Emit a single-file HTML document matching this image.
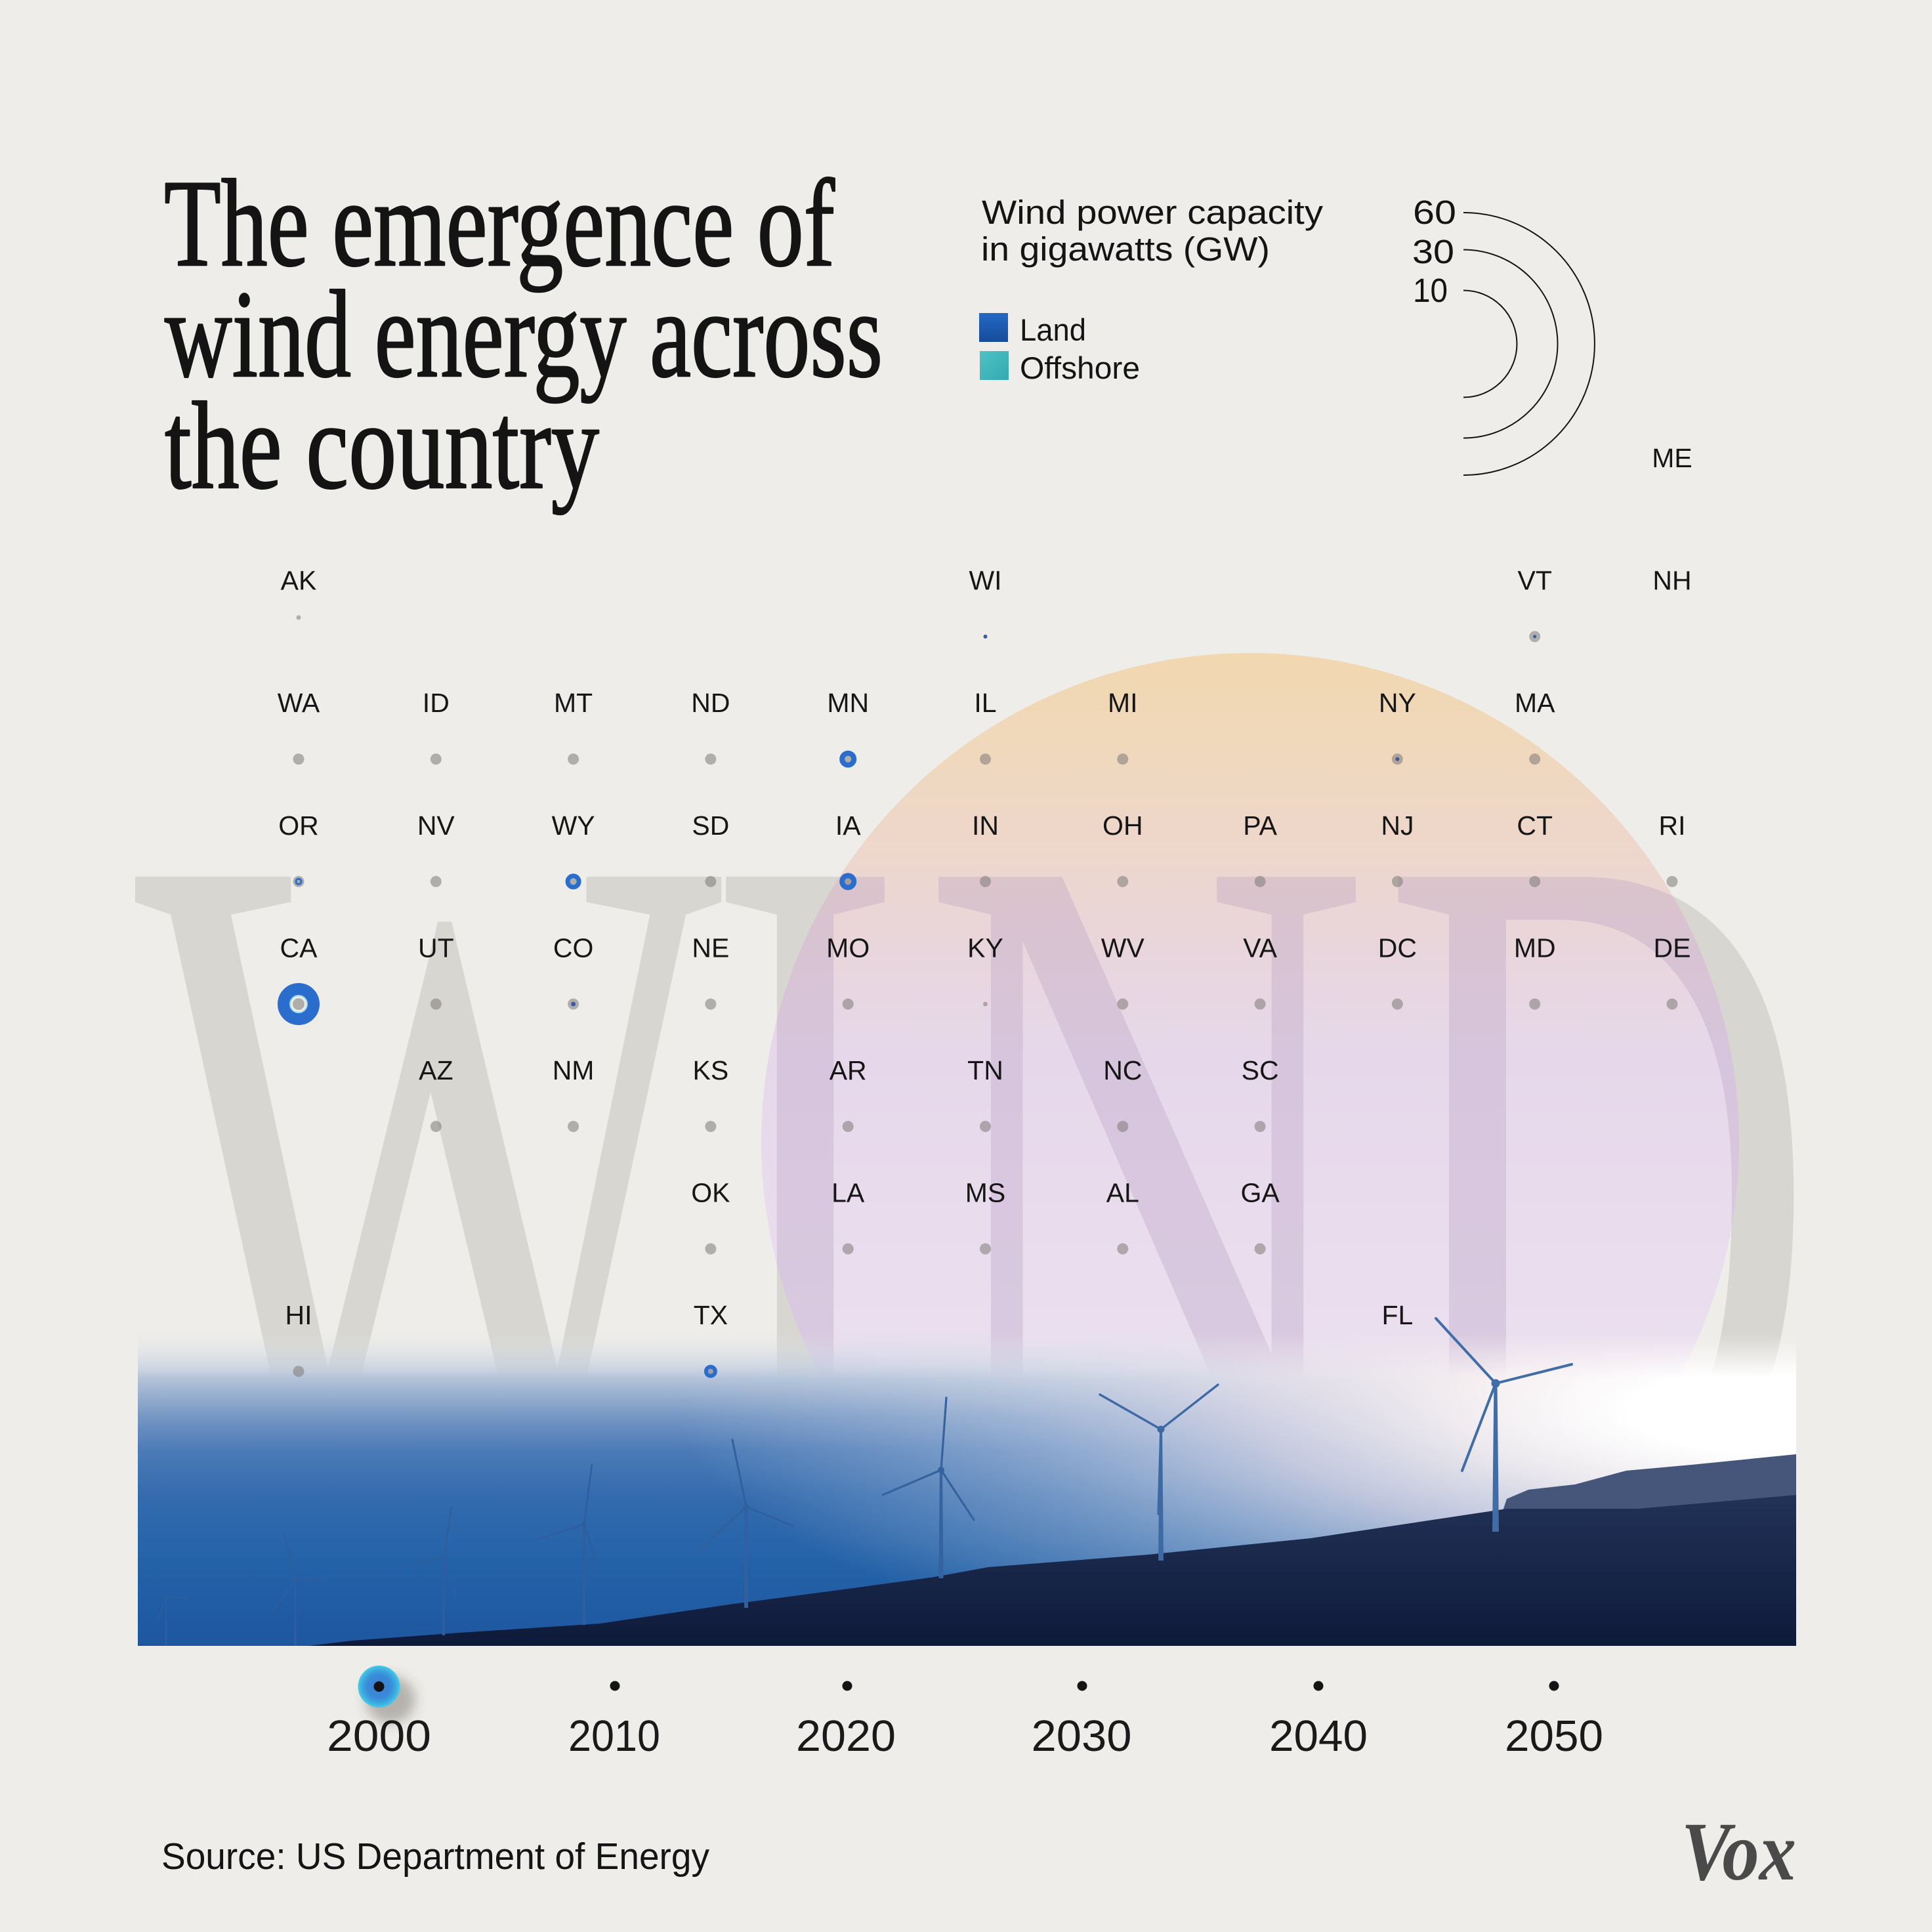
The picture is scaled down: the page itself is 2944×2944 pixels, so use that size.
<!DOCTYPE html>
<html>
<head>
<meta charset="utf-8">
<style>
html,body{margin:0;padding:0;background:#eeede9;}
svg{display:block;}
.st{font-family:"Liberation Sans",sans-serif;font-size:41px;fill:#161616;text-anchor:middle;}
.ttl{font-family:"Liberation Serif",serif;font-size:190px;fill:#141414;stroke:#141414;stroke-width:2.5;stroke-linejoin:round;}
.lg{font-family:"Liberation Sans",sans-serif;fill:#141414;}
.yr{font-family:"Liberation Sans",sans-serif;font-size:67px;fill:#1a1a1a;text-anchor:middle;}
.big{font-family:"Liberation Serif",serif;font-size:1500px;}
</style>
</head>
<body>
<svg xmlns="http://www.w3.org/2000/svg" xmlns:xlink="http://www.w3.org/1999/xlink" width="2944" height="2944" viewBox="0 0 2944 2944">
<defs>
  <linearGradient id="sun" x1="0" y1="995" x2="0" y2="2485" gradientUnits="userSpaceOnUse">
    <stop offset="0" stop-color="#f1d8b0"/>
    <stop offset="0.09" stop-color="#f0d8bb"/>
    <stop offset="0.185" stop-color="#eed7c9"/>
    <stop offset="0.3" stop-color="#e9d6dc"/>
    <stop offset="0.41" stop-color="#e6d8ea"/>
    <stop offset="0.75" stop-color="#ebe0f0"/>
    <stop offset="1" stop-color="#ece3f1"/>
  </linearGradient>
  <linearGradient id="sea" x1="0" y1="2040" x2="0" y2="2508" gradientUnits="userSpaceOnUse">
    <stop offset="0" stop-color="#dfe3ea"/>
    <stop offset="0.096" stop-color="#c3cfdf"/>
    <stop offset="0.171" stop-color="#9fb4d1"/>
    <stop offset="0.256" stop-color="#7496c4"/>
    <stop offset="0.363" stop-color="#4c7bb7"/>
    <stop offset="0.513" stop-color="#336bae"/>
    <stop offset="0.726" stop-color="#2462a8"/>
    <stop offset="1" stop-color="#1d579f"/>
  </linearGradient>
  <radialGradient id="glare" gradientUnits="userSpaceOnUse" cx="2737" cy="2150" r="1700" gradientTransform="translate(2737 2150) scale(1 0.265) translate(-2737 -2150)">
    <stop offset="0" stop-color="#ffffff" stop-opacity="1"/>
    <stop offset="0.15" stop-color="#ffffff" stop-opacity="1"/>
    <stop offset="0.3" stop-color="#fbf3f3" stop-opacity="0.92"/>
    <stop offset="0.48" stop-color="#f0e6ee" stop-opacity="0.74"/>
    <stop offset="0.68" stop-color="#dfe2ee" stop-opacity="0.43"/>
    <stop offset="0.9" stop-color="#c8d4e6" stop-opacity="0.16"/>
    <stop offset="1" stop-color="#c8d4e6" stop-opacity="0"/>
  </radialGradient>
  <linearGradient id="land" x1="0" y1="2216" x2="0" y2="2508" gradientUnits="userSpaceOnUse">
    <stop offset="0" stop-color="#2c3d61"/>
    <stop offset="0.3" stop-color="#1f2f53"/>
    <stop offset="1" stop-color="#0e1a3a"/>
  </linearGradient>
  <linearGradient id="fade" x1="0" y1="2030" x2="0" y2="2100" gradientUnits="userSpaceOnUse">
    <stop offset="0" stop-color="#000"/>
    <stop offset="0.45" stop-color="#777"/>
    <stop offset="1" stop-color="#fff"/>
  </linearGradient>
  <mask id="pm" maskUnits="userSpaceOnUse" x="0" y="0" width="2944" height="2944">
    <rect x="210" y="2000" width="2527" height="508" fill="url(#fade)"/>
  </mask>
  <mask id="outside" maskUnits="userSpaceOnUse" x="0" y="0" width="2944" height="2944">
    <rect x="0" y="0" width="2944" height="2944" fill="#fff"/>
    <circle cx="1905" cy="1740" r="745" fill="#000"/>
  </mask>
  <clipPath id="inside">
    <circle cx="1905" cy="1740" r="745"/>
  </clipPath>
  <g id="wind">
    <text class="big" transform="translate(205,2318) scale(0.633,1)">W</text>
    <text class="big" transform="translate(1073,2318) scale(0.615,1)">I</text>
    <text class="big" transform="translate(1403,2318) scale(0.632,1)">N</text>
    <text class="big" transform="translate(2104,2318) scale(0.615,1)">D</text>
  </g>
  <linearGradient id="landsq" x1="0" y1="0" x2="0" y2="1">
    <stop offset="0" stop-color="#2468c4"/>
    <stop offset="1" stop-color="#164c9c"/>
  </linearGradient>
  <linearGradient id="offsq" x1="0" y1="0" x2="1" y2="1">
    <stop offset="0" stop-color="#4ec2c4"/>
    <stop offset="1" stop-color="#33a9b1"/>
  </linearGradient>
  <radialGradient id="marker" cx="0.5" cy="0.5" r="0.5">
    <stop offset="0" stop-color="#3a80d6"/>
    <stop offset="0.55" stop-color="#3a8ad8"/>
    <stop offset="0.78" stop-color="#3aa6de"/>
    <stop offset="1" stop-color="#48cbe6"/>
  </radialGradient>
  <filter id="blur" x="-50%" y="-50%" width="200%" height="200%">
    <feGaussianBlur stdDeviation="9"/>
  </filter>
</defs>

<!-- background -->
<rect x="0" y="0" width="2944" height="2944" fill="#eeede9"/>

<!-- sunset circle -->
<circle cx="1905" cy="1740" r="745" fill="url(#sun)"/>

<!-- big WIND letters -->
<g mask="url(#outside)" fill="#9c968c" fill-opacity="0.27">
  <use xlink:href="#wind" href="#wind"/>
</g>
<g clip-path="url(#inside)" fill="#b498be" fill-opacity="0.3">
  <use xlink:href="#wind" href="#wind"/>
</g>

<!-- Title -->
<text class="ttl" x="250" y="404" textLength="1022" lengthAdjust="spacingAndGlyphs">The emergence of</text>
<text class="ttl" x="251" y="573" textLength="1094" lengthAdjust="spacingAndGlyphs">wind energy across</text>
<text class="ttl" x="251" y="743" textLength="662" lengthAdjust="spacingAndGlyphs">the country</text>

<!-- Legend -->
<text class="lg" x="1496" y="341" font-size="51" textLength="520" lengthAdjust="spacingAndGlyphs">Wind power capacity</text>
<text class="lg" x="1495" y="397" font-size="51" textLength="440" lengthAdjust="spacingAndGlyphs">in gigawatts (GW)</text>
<rect x="1492" y="477" width="44" height="44" fill="url(#landsq)"/>
<text class="lg" x="1554" y="519" font-size="47" textLength="101" lengthAdjust="spacingAndGlyphs">Land</text>
<rect x="1493" y="535" width="44" height="44" fill="url(#offsq)"/>
<text class="lg" x="1554" y="577" font-size="47" textLength="183" lengthAdjust="spacingAndGlyphs">Offshore</text>

<text class="lg" x="2153" y="341" font-size="51" textLength="66" lengthAdjust="spacingAndGlyphs">60</text>
<text class="lg" x="2152" y="401" font-size="51" textLength="64" lengthAdjust="spacingAndGlyphs">30</text>
<text class="lg" x="2153" y="460" font-size="51" textLength="53" lengthAdjust="spacingAndGlyphs">10</text>
<g fill="none" stroke="#141414" stroke-width="2">
  <path d="M2230,324 A200,200 0 0 1 2230,724"/>
  <path d="M2230,380.5 A143.5,143.5 0 0 1 2230,667.5"/>
  <path d="M2230,442.5 A81.5,81.5 0 0 1 2230,605.5"/>
</g>

<!-- Photo -->
<g mask="url(#pm)">
  <rect x="210" y="2000" width="2527" height="508" fill="url(#sea)"/>
  <rect x="210" y="2000" width="2527" height="508" fill="url(#glare)"/>
  <polygon points="2290,2302 2296,2284 2329,2270 2400,2262 2478,2241 2578,2232 2737,2216 2737,2302" fill="#46557a"/>
  <polygon points="470,2508 537,2500 700,2488 914,2474 1118,2444 1300,2420 1424,2403 1506,2388 1749,2369 1997,2344 2163,2319 2296,2299 2495,2299 2600,2290 2737,2278 2737,2508" fill="url(#land)"/>
</g>

<!-- Turbines -->
<g stroke-linecap="round">
  <g stroke="#2e5e9d" fill="#2e5e9d">
    <polygon points="252.3,2434 253.7,2434 254.5,2508 251.5,2508" stroke="none"/>
    <line x1="253" y1="2434" x2="231" y2="2400" stroke-width="1.6"/>
    <line x1="253" y1="2434" x2="290" y2="2436" stroke-width="1.6"/>
    <line x1="253" y1="2434" x2="240" y2="2470" stroke-width="1.6"/>
  </g>
  <g stroke="#2e5e9d" fill="#2e5e9d">
    <polygon points="449,2406 451,2406 451.8,2508 448.2,2508" stroke="none"/>
    <line x1="450" y1="2406" x2="433" y2="2337" stroke-width="2"/>
    <line x1="450" y1="2406" x2="417" y2="2454" stroke-width="2"/>
    <line x1="450" y1="2406" x2="498" y2="2410" stroke-width="2"/>
    <circle cx="450" cy="2406" r="3" stroke="none"/>
  </g>
  <g stroke="#2e5e9d" fill="#2e5e9d">
    <polygon points="674.8,2375 677.2,2375 678,2492 674,2492" stroke="none"/>
    <line x1="676" y1="2375" x2="688" y2="2296" stroke-width="2.2"/>
    <line x1="676" y1="2375" x2="616" y2="2385" stroke-width="2.2"/>
    <line x1="676" y1="2375" x2="695" y2="2434" stroke-width="2.2"/>
    <circle cx="676" cy="2375" r="3.5" stroke="none"/>
  </g>
  <g stroke="#2e5e9d" fill="#2e5e9d">
    <polygon points="888.5,2323 891.5,2323 892.5,2476 887.5,2476" stroke="none"/>
    <line x1="890" y1="2323" x2="902" y2="2232" stroke-width="2.6"/>
    <line x1="890" y1="2323" x2="824" y2="2344" stroke-width="2.6"/>
    <line x1="890" y1="2323" x2="914" y2="2393" stroke-width="2.6"/>
    <circle cx="890" cy="2323" r="4" stroke="none"/>
  </g>
  <g stroke="#30609e" fill="#30609e">
    <polygon points="1135.3,2296 1138.7,2296 1140,2450 1134,2450" stroke="none"/>
    <line x1="1137" y1="2296" x2="1116" y2="2194" stroke-width="3"/>
    <line x1="1137" y1="2296" x2="1065" y2="2364" stroke-width="3"/>
    <line x1="1137" y1="2296" x2="1210" y2="2326" stroke-width="3"/>
    <circle cx="1137" cy="2296" r="4.5" stroke="none"/>
  </g>
  <g stroke="#34639f" fill="#34639f">
    <polygon points="1432,2240 1436,2240 1437.5,2405 1430.5,2405" stroke="none"/>
    <line x1="1434" y1="2240" x2="1442" y2="2130" stroke-width="3.2"/>
    <line x1="1434" y1="2240" x2="1345" y2="2278" stroke-width="3.2"/>
    <line x1="1434" y1="2240" x2="1484" y2="2316" stroke-width="3.2"/>
    <circle cx="1434" cy="2240" r="5" stroke="none"/>
  </g>
  <g stroke="#3d69a4" fill="#3d69a4">
    <polygon points="1767,2178 1771,2178 1773,2378 1765,2378" stroke="none"/>
    <line x1="1769" y1="2178" x2="1676" y2="2125" stroke-width="3.4"/>
    <line x1="1769" y1="2178" x2="1856" y2="2110" stroke-width="3.4"/>
    <line x1="1769" y1="2178" x2="1765" y2="2307" stroke-width="3.4"/>
    <circle cx="1769" cy="2178" r="5.5" stroke="none"/>
  </g>
  <g stroke="#416da7" fill="#416da7">
    <polygon points="2276.5,2108 2281.5,2108 2284,2334 2274,2334" stroke="none"/>
    <line x1="2279" y1="2108" x2="2188" y2="2009" stroke-width="4"/>
    <line x1="2279" y1="2108" x2="2395" y2="2079" stroke-width="4"/>
    <line x1="2279" y1="2108" x2="2228" y2="2241" stroke-width="4"/>
    <circle cx="2279" cy="2108" r="6.5" stroke="none"/>
  </g>
</g>

<!-- State labels -->
<text class="st" x="2548" y="712">ME</text>

<text class="st" x="455" y="898.6">AK</text>
<text class="st" x="1501.5" y="898.6">WI</text>
<text class="st" x="2338.7" y="898.6">VT</text>
<text class="st" x="2548" y="898.6">NH</text>

<text class="st" x="455" y="1085.2">WA</text>
<text class="st" x="664.3" y="1085.2">ID</text>
<text class="st" x="873.6" y="1085.2">MT</text>
<text class="st" x="1082.9" y="1085.2">ND</text>
<text class="st" x="1292.2" y="1085.2">MN</text>
<text class="st" x="1501.5" y="1085.2">IL</text>
<text class="st" x="1710.8" y="1085.2">MI</text>
<text class="st" x="2129.4" y="1085.2">NY</text>
<text class="st" x="2338.7" y="1085.2">MA</text>

<text class="st" x="455" y="1271.8">OR</text>
<text class="st" x="664.3" y="1271.8">NV</text>
<text class="st" x="873.6" y="1271.8">WY</text>
<text class="st" x="1082.9" y="1271.8">SD</text>
<text class="st" x="1292.2" y="1271.8">IA</text>
<text class="st" x="1501.5" y="1271.8">IN</text>
<text class="st" x="1710.8" y="1271.8">OH</text>
<text class="st" x="1920.1" y="1271.8">PA</text>
<text class="st" x="2129.4" y="1271.8">NJ</text>
<text class="st" x="2338.7" y="1271.8">CT</text>
<text class="st" x="2548" y="1271.8">RI</text>

<text class="st" x="455" y="1458.4">CA</text>
<text class="st" x="664.3" y="1458.4">UT</text>
<text class="st" x="873.6" y="1458.4">CO</text>
<text class="st" x="1082.9" y="1458.4">NE</text>
<text class="st" x="1292.2" y="1458.4">MO</text>
<text class="st" x="1501.5" y="1458.4">KY</text>
<text class="st" x="1710.8" y="1458.4">WV</text>
<text class="st" x="1920.1" y="1458.4">VA</text>
<text class="st" x="2129.4" y="1458.4">DC</text>
<text class="st" x="2338.7" y="1458.4">MD</text>
<text class="st" x="2548" y="1458.4">DE</text>

<text class="st" x="664.3" y="1645">AZ</text>
<text class="st" x="873.6" y="1645">NM</text>
<text class="st" x="1082.9" y="1645">KS</text>
<text class="st" x="1292.2" y="1645">AR</text>
<text class="st" x="1501.5" y="1645">TN</text>
<text class="st" x="1710.8" y="1645">NC</text>
<text class="st" x="1920.1" y="1645">SC</text>

<text class="st" x="1082.9" y="1831.6">OK</text>
<text class="st" x="1292.2" y="1831.6">LA</text>
<text class="st" x="1501.5" y="1831.6">MS</text>
<text class="st" x="1710.8" y="1831.6">AL</text>
<text class="st" x="1920.1" y="1831.6">GA</text>

<text class="st" x="455" y="2018.2">HI</text>
<text class="st" x="1082.9" y="2018.2">TX</text>
<text class="st" x="2129.4" y="2018.2">FL</text>

<!-- Dots -->
<g fill="#7d7a76" fill-opacity="0.55">
  <circle cx="455" cy="941" r="3.5"/>
  <circle cx="2338.7" cy="970" r="8.5"/>

  <circle cx="455" cy="1156.7" r="8.5"/>
  <circle cx="664.3" cy="1156.7" r="8.5"/>
  <circle cx="873.6" cy="1156.7" r="8.5"/>
  <circle cx="1082.9" cy="1156.7" r="8.5"/>
  <circle cx="1292.2" cy="1156.7" r="5"/>
  <circle cx="1501.5" cy="1156.7" r="8.5"/>
  <circle cx="1710.8" cy="1156.7" r="8.5"/>
  <circle cx="2129.4" cy="1156.7" r="8.5"/>
  <circle cx="2338.7" cy="1156.7" r="8.5"/>

  <circle cx="455" cy="1343.3" r="8.5"/>
  <circle cx="664.3" cy="1343.3" r="8.5"/>
  <circle cx="873.6" cy="1343.3" r="5"/>
  <circle cx="1082.9" cy="1343.3" r="8.5"/>
  <circle cx="1292.2" cy="1343.3" r="5"/>
  <circle cx="1501.5" cy="1343.3" r="8.5"/>
  <circle cx="1710.8" cy="1343.3" r="8.5"/>
  <circle cx="1920.1" cy="1343.3" r="8.5"/>
  <circle cx="2129.4" cy="1343.3" r="8.5"/>
  <circle cx="2338.7" cy="1343.3" r="8.5"/>
  <circle cx="2548" cy="1343.3" r="8.5"/>

  <circle cx="455" cy="1530" r="9"/>
  <circle cx="664.3" cy="1530" r="8.5"/>
  <circle cx="873.6" cy="1530" r="8.5"/>
  <circle cx="1082.9" cy="1530" r="8.5"/>
  <circle cx="1292.2" cy="1530" r="8.5"/>
  <circle cx="1501.5" cy="1530" r="3.5"/>
  <circle cx="1710.8" cy="1530" r="8.5"/>
  <circle cx="1920.1" cy="1530" r="8.5"/>
  <circle cx="2129.4" cy="1530" r="8.5"/>
  <circle cx="2338.7" cy="1530" r="8.5"/>
  <circle cx="2548" cy="1530" r="8.5"/>

  <circle cx="664.3" cy="1716.5" r="8.5"/>
  <circle cx="873.6" cy="1716.5" r="8.5"/>
  <circle cx="1082.9" cy="1716.5" r="8.5"/>
  <circle cx="1292.2" cy="1716.5" r="8.5"/>
  <circle cx="1501.5" cy="1716.5" r="8.5"/>
  <circle cx="1710.8" cy="1716.5" r="8.5"/>
  <circle cx="1920.1" cy="1716.5" r="8.5"/>

  <circle cx="1082.9" cy="1903" r="8.5"/>
  <circle cx="1292.2" cy="1903" r="8.5"/>
  <circle cx="1501.5" cy="1903" r="8.5"/>
  <circle cx="1710.8" cy="1903" r="8.5"/>
  <circle cx="1920.1" cy="1903" r="8.5"/>

  <circle cx="455" cy="2089.7" r="8.5"/>
  <circle cx="1082.9" cy="2089.7" r="4.5"/>
</g>

<!-- blue markers -->
<g fill="none" stroke="#2b6dcc">
  <circle cx="1292.2" cy="1156.7" r="9" stroke-width="8"/>
  <circle cx="873.6" cy="1343.3" r="8.5" stroke-width="7"/>
  <circle cx="1292.2" cy="1343.3" r="9" stroke-width="8"/>
  <circle cx="455" cy="1530" r="22.5" stroke-width="19"/>
  <circle cx="1082.9" cy="2089.7" r="7" stroke-width="6"/>
  <circle cx="455" cy="1343.3" r="4" stroke-width="3"/>
</g>
<circle cx="455" cy="1530" r="13" fill="none" stroke="#9fdcec" stroke-width="2"/>
<g fill="#3c58a8">
  <circle cx="1501.5" cy="970" r="3"/>
  <circle cx="2338.7" cy="970" r="2.5"/>
  <circle cx="2129.4" cy="1156.7" r="3"/>
  <circle cx="873.6" cy="1530" r="3.5"/>
</g>

<!-- Timeline -->
<ellipse cx="595" cy="2590" rx="38" ry="36" fill="#4a4640" fill-opacity="0.35" filter="url(#blur)"/>
<circle cx="577.5" cy="2570" r="32" fill="url(#marker)"/>
<g fill="#141414">
  <circle cx="577.5" cy="2570" r="8"/>
  <circle cx="937" cy="2569" r="7.5"/>
  <circle cx="1291" cy="2569" r="7.5"/>
  <circle cx="1649" cy="2569" r="7.5"/>
  <circle cx="2009" cy="2569" r="7.5"/>
  <circle cx="2368" cy="2569" r="7.5"/>
</g>
<text class="yr" x="577.5" y="2668" textLength="159" lengthAdjust="spacingAndGlyphs">2000</text>
<text class="yr" x="936" y="2668" textLength="140" lengthAdjust="spacingAndGlyphs">2010</text>
<text class="yr" x="1289" y="2668" textLength="152" lengthAdjust="spacingAndGlyphs">2020</text>
<text class="yr" x="1648" y="2668" textLength="153" lengthAdjust="spacingAndGlyphs">2030</text>
<text class="yr" x="2009" y="2668" textLength="150" lengthAdjust="spacingAndGlyphs">2040</text>
<text class="yr" x="2368" y="2668" textLength="150" lengthAdjust="spacingAndGlyphs">2050</text>

<!-- Source -->
<text class="lg" x="246" y="2848" font-size="57" textLength="835" lengthAdjust="spacingAndGlyphs">Source: US Department of Energy</text>

<!-- Vox logo -->
<text x="2562" y="2864" font-family="'Liberation Serif', serif" font-weight="bold" font-style="italic" font-size="127" fill="#4a4a4a" textLength="175" lengthAdjust="spacingAndGlyphs">Vox</text>
</svg>
</body>
</html>
